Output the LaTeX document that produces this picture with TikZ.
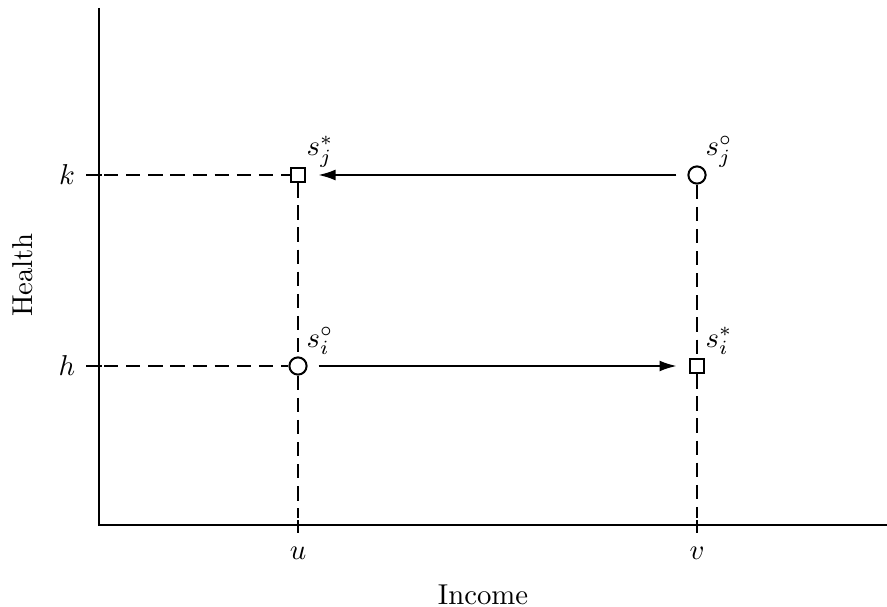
\documentclass[tikz,border=0pt]{standalone}
\usetikzlibrary{arrows.meta}
\begin{document}
\begin{tikzpicture}[x=0.348pt,y=-0.348pt,
  axis/.style={line width=0.8pt},
  tick/.style={line width=0.8pt},
  guide/.style={line width=0.7pt,dash pattern=on 5pt off 2.7pt},
  move/.style={line width=0.7pt,-{Latex[length=6pt,width=3.8pt]}},
  circ/.style={circle,draw,line width=0.7pt,minimum size=6pt,inner sep=0pt},
  sq/.style={rectangle,draw,line width=0.7pt,minimum size=5pt,inner sep=0pt}]
\useasboundingbox (0,0) rectangle (887,607);
\coordinate (top) at (99,8);
\coordinate (O) at (99,525);
\coordinate (right) at (887,525);
\draw[axis] (top) -- (O) -- (right);
\node[sq] (sj) at (298,175) {};
\node[circ] (oj) at (697,175) {};
\node[circ] (oi) at (298,366) {};
\node[sq] (si) at (697,366) {};
% ticks
\coordinate (tk1) at (86,175); \coordinate (tk2) at (102,175);
\coordinate (th1) at (86,366); \coordinate (th2) at (102,366);
\coordinate (tu1) at (298,520); \coordinate (tu2) at (298,533);
\coordinate (tv1) at (697,520); \coordinate (tv2) at (697,533);
\draw[tick] (tk1) -- (tk2);
\draw[tick] (th1) -- (th2);
\draw[tick] (tu1) -- (tu2);
\draw[tick] (tv1) -- (tv2);
% guides
\coordinate (yk) at (104,175);
\coordinate (yh) at (104,366);
\coordinate (xu) at (298,518);
\coordinate (xv) at (697,518);
\draw[guide] (yk) -- (sj.west);
\draw[guide] (yh) -- (oi.west);
\draw[guide] (sj.south) -- (oi.north);
\draw[guide] (oi.south) -- (xu);
\draw[guide] (oj.south) -- (si.north);
\draw[guide] (si.south) -- (xv);
% moves
\draw[move, shorten <=3.8pt, shorten >=4.2pt] (oj.west) -- (sj.east);
\draw[move, shorten <=3.8pt, shorten >=4.2pt] (oi.east) -- (si.west);
% labels
\node (lk) at (67,175) {$k$};
\node (lh) at (67,366) {$h$};
\node (lu) at (298,553) {$u$};
\node (lv) at (697,553) {$v$};
\node (lx) at (483,595) {Income};
\node[rotate=90] (ly) at (23,275) {Health};
\node[anchor=base west,inner sep=0pt] (tsj) at (306,156) {$s_j^*$};
\node[anchor=base west,inner sep=0pt] (toj) at (705,156) {$s_j^\circ$};
\node[anchor=base west,inner sep=0pt] (toi) at (306,347) {$s_i^\circ$};
\node[anchor=base west,inner sep=0pt] (tsi) at (705,347) {$s_i^*$};
\end{tikzpicture}
\end{document}
